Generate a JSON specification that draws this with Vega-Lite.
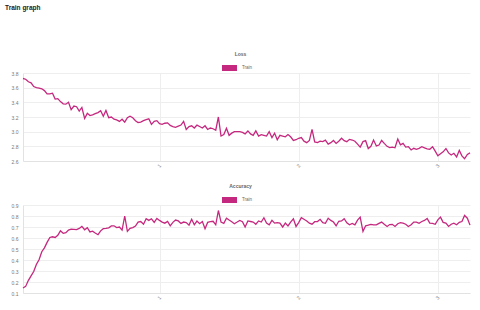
{
  "$schema": "https://vega.github.io/schema/vega-lite/v6.json",
  "padding": {"left": 5, "top": 5, "right": 9, "bottom": 4},
  "background": "white",
  "title": {"text": "Train graph", "anchor": "start", "fontSize": 6.5, "fontWeight": "bold", "color": "#222", "font": "Liberation Sans", "offset": 40, "dx": -6},
  "config": {
    "view": {"stroke": null},
    "font": "Liberation Sans",
    "axis": {"domainColor": "#e2e2e2", "gridColor": "#eeeeee", "ticks": false, "labelFontSize": 5, "labelColor": "#777", "labelFont": "Liberation Sans", "title": null, "labelPadding": 5},
    "title": {"fontSize": 5, "fontWeight": "bold", "color": "#666", "font": "Liberation Sans"}
  },
  "resolve": {"scale": {"color": "independent"}, "legend": {"color": "independent"}},
  "spacing": 14,
  "data": {"values": [
    {"x":0.019,"loss":3.725,"acc":0.146},{"x":0.038,"loss":3.715,"acc":0.16},{"x":0.058,"loss":3.68,"acc":0.215},{"x":0.077,"loss":3.665,"acc":0.255},{"x":0.096,"loss":3.615,"acc":0.295},{"x":0.115,"loss":3.6,"acc":0.36},{"x":0.135,"loss":3.595,"acc":0.405},{"x":0.154,"loss":3.585,"acc":0.475},{"x":0.173,"loss":3.56,"acc":0.51},{"x":0.192,"loss":3.515,"acc":0.56},
    {"x":0.212,"loss":3.515,"acc":0.605},{"x":0.231,"loss":3.525,"acc":0.611},{"x":0.25,"loss":3.445,"acc":0.605},{"x":0.269,"loss":3.45,"acc":0.625},{"x":0.288,"loss":3.41,"acc":0.665},{"x":0.308,"loss":3.38,"acc":0.643},{"x":0.327,"loss":3.375,"acc":0.648},{"x":0.346,"loss":3.4,"acc":0.672},{"x":0.365,"loss":3.3,"acc":0.68},{"x":0.385,"loss":3.35,"acc":0.678},
    {"x":0.404,"loss":3.34,"acc":0.676},{"x":0.423,"loss":3.28,"acc":0.687},{"x":0.442,"loss":3.33,"acc":0.705},{"x":0.462,"loss":3.18,"acc":0.675},{"x":0.481,"loss":3.25,"acc":0.693},{"x":0.5,"loss":3.22,"acc":0.655},{"x":0.519,"loss":3.23,"acc":0.662},{"x":0.538,"loss":3.245,"acc":0.645},{"x":0.558,"loss":3.26,"acc":0.63},{"x":0.577,"loss":3.285,"acc":0.665},
    {"x":0.596,"loss":3.21,"acc":0.685},{"x":0.615,"loss":3.29,"acc":0.688},{"x":0.635,"loss":3.19,"acc":0.693},{"x":0.654,"loss":3.2,"acc":0.71},{"x":0.673,"loss":3.17,"acc":0.711},{"x":0.692,"loss":3.16,"acc":0.695},{"x":0.712,"loss":3.14,"acc":0.7},{"x":0.731,"loss":3.17,"acc":0.672},{"x":0.75,"loss":3.13,"acc":0.8},{"x":0.769,"loss":3.19,"acc":0.66},
    {"x":0.788,"loss":3.21,"acc":0.687},{"x":0.808,"loss":3.19,"acc":0.695},{"x":0.827,"loss":3.15,"acc":0.708},{"x":0.846,"loss":3.125,"acc":0.745},{"x":0.865,"loss":3.13,"acc":0.75},{"x":0.885,"loss":3.15,"acc":0.725},{"x":0.904,"loss":3.165,"acc":0.775},{"x":0.923,"loss":3.175,"acc":0.76},{"x":0.942,"loss":3.1,"acc":0.775},{"x":0.962,"loss":3.14,"acc":0.742},
    {"x":0.981,"loss":3.15,"acc":0.778},{"x":1.0,"loss":3.11,"acc":0.76},{"x":1.019,"loss":3.1,"acc":0.745},{"x":1.038,"loss":3.115,"acc":0.735},{"x":1.058,"loss":3.12,"acc":0.75},{"x":1.077,"loss":3.085,"acc":0.71},{"x":1.096,"loss":3.07,"acc":0.742},{"x":1.115,"loss":3.06,"acc":0.763},{"x":1.135,"loss":3.075,"acc":0.755},{"x":1.154,"loss":3.09,"acc":0.733},
    {"x":1.173,"loss":3.14,"acc":0.745},{"x":1.192,"loss":3.03,"acc":0.74},{"x":1.212,"loss":3.07,"acc":0.717},{"x":1.231,"loss":3.08,"acc":0.77},{"x":1.25,"loss":3.05,"acc":0.72},{"x":1.269,"loss":3.09,"acc":0.754},{"x":1.288,"loss":3.07,"acc":0.73},{"x":1.308,"loss":3.05,"acc":0.75},{"x":1.327,"loss":3.08,"acc":0.685},{"x":1.346,"loss":3.03,"acc":0.742},
    {"x":1.365,"loss":3.05,"acc":0.748},{"x":1.385,"loss":3.04,"acc":0.752},{"x":1.404,"loss":3.02,"acc":0.72},{"x":1.423,"loss":3.2,"acc":0.85},{"x":1.442,"loss":2.94,"acc":0.745},{"x":1.462,"loss":2.96,"acc":0.733},{"x":1.481,"loss":3.045,"acc":0.78},{"x":1.5,"loss":2.95,"acc":0.763},{"x":1.519,"loss":2.98,"acc":0.748},{"x":1.538,"loss":3.0,"acc":0.73},
    {"x":1.558,"loss":3.0,"acc":0.745},{"x":1.577,"loss":3.0,"acc":0.76},{"x":1.596,"loss":2.99,"acc":0.748},{"x":1.615,"loss":2.97,"acc":0.7},{"x":1.635,"loss":3.01,"acc":0.755},{"x":1.654,"loss":2.97,"acc":0.75},{"x":1.673,"loss":2.95,"acc":0.745},{"x":1.692,"loss":3.01,"acc":0.725},{"x":1.712,"loss":2.94,"acc":0.755},{"x":1.731,"loss":2.96,"acc":0.745},
    {"x":1.75,"loss":2.95,"acc":0.784},{"x":1.769,"loss":2.94,"acc":0.735},{"x":1.788,"loss":3.0,"acc":0.72},{"x":1.808,"loss":2.92,"acc":0.76},{"x":1.827,"loss":2.98,"acc":0.735},{"x":1.846,"loss":2.89,"acc":0.74},{"x":1.865,"loss":2.95,"acc":0.735},{"x":1.885,"loss":2.94,"acc":0.7},{"x":1.904,"loss":2.93,"acc":0.735},{"x":1.923,"loss":2.96,"acc":0.71},
    {"x":1.942,"loss":2.93,"acc":0.745},{"x":1.962,"loss":2.88,"acc":0.775},{"x":1.981,"loss":2.89,"acc":0.705},{"x":2.0,"loss":2.91,"acc":0.74},{"x":2.019,"loss":2.92,"acc":0.784},{"x":2.038,"loss":2.87,"acc":0.77},{"x":2.058,"loss":2.85,"acc":0.755},{"x":2.077,"loss":2.88,"acc":0.735},{"x":2.096,"loss":3.03,"acc":0.726},{"x":2.115,"loss":2.86,"acc":0.748},
    {"x":2.135,"loss":2.85,"acc":0.75},{"x":2.154,"loss":2.87,"acc":0.77},{"x":2.173,"loss":2.865,"acc":0.74},{"x":2.192,"loss":2.885,"acc":0.734},{"x":2.212,"loss":2.83,"acc":0.78},{"x":2.231,"loss":2.85,"acc":0.76},{"x":2.25,"loss":2.88,"acc":0.745},{"x":2.269,"loss":2.84,"acc":0.71},{"x":2.288,"loss":2.87,"acc":0.752},{"x":2.308,"loss":2.91,"acc":0.755},
    {"x":2.327,"loss":2.877,"acc":0.776},{"x":2.346,"loss":2.864,"acc":0.738},{"x":2.365,"loss":2.895,"acc":0.72},{"x":2.385,"loss":2.886,"acc":0.733},{"x":2.404,"loss":2.87,"acc":0.72},{"x":2.423,"loss":2.83,"acc":0.762},{"x":2.442,"loss":2.79,"acc":0.79},{"x":2.462,"loss":2.864,"acc":0.66},{"x":2.481,"loss":2.877,"acc":0.711},{"x":2.5,"loss":2.77,"acc":0.716},
    {"x":2.519,"loss":2.8,"acc":0.724},{"x":2.538,"loss":2.886,"acc":0.72},{"x":2.558,"loss":2.805,"acc":0.72},{"x":2.577,"loss":2.818,"acc":0.733},{"x":2.596,"loss":2.88,"acc":0.745},{"x":2.615,"loss":2.84,"acc":0.724},{"x":2.635,"loss":2.8,"acc":0.705},{"x":2.654,"loss":2.782,"acc":0.722},{"x":2.673,"loss":2.79,"acc":0.724},{"x":2.692,"loss":2.78,"acc":0.705},
    {"x":2.712,"loss":2.9,"acc":0.73},{"x":2.731,"loss":2.82,"acc":0.74},{"x":2.75,"loss":2.84,"acc":0.735},{"x":2.769,"loss":2.79,"acc":0.725},{"x":2.788,"loss":2.795,"acc":0.705},{"x":2.808,"loss":2.75,"acc":0.72},{"x":2.827,"loss":2.773,"acc":0.745},{"x":2.846,"loss":2.76,"acc":0.745},{"x":2.865,"loss":2.773,"acc":0.733},{"x":2.885,"loss":2.795,"acc":0.75},
    {"x":2.904,"loss":2.78,"acc":0.76},{"x":2.923,"loss":2.765,"acc":0.778},{"x":2.942,"loss":2.76,"acc":0.735},{"x":2.962,"loss":2.795,"acc":0.733},{"x":2.981,"loss":2.735,"acc":0.725},{"x":3.0,"loss":2.67,"acc":0.765},{"x":3.019,"loss":2.7,"acc":0.79},{"x":3.038,"loss":2.725,"acc":0.742},{"x":3.058,"loss":2.77,"acc":0.735},{"x":3.077,"loss":2.71,"acc":0.705},
    {"x":3.096,"loss":2.682,"acc":0.725},{"x":3.115,"loss":2.705,"acc":0.735},{"x":3.135,"loss":2.655,"acc":0.72},{"x":3.154,"loss":2.745,"acc":0.742},{"x":3.173,"loss":2.67,"acc":0.75},{"x":3.192,"loss":2.63,"acc":0.805},{"x":3.212,"loss":2.69,"acc":0.78},{"x":3.231,"loss":2.71,"acc":0.717}
  ]},
  "vconcat": [
    {
      "width": 447, "height": 88,
      "title": {"text": "Loss", "dx": -6, "offset": 4},
      "mark": {"type": "line", "strokeWidth": 1.3, "interpolate": "linear"},
      "encoding": {
        "x": {"field": "x", "type": "quantitative", "scale": {"domain": [0.019, 3.231], "nice": false, "zero": false}, "axis": {"values": [1, 2, 3], "labelAngle": -50, "labelAlign": "right", "labelBaseline": "middle", "labelPadding": 3}},
        "y": {"field": "loss", "type": "quantitative", "scale": {"domain": [2.6, 3.8], "nice": false, "zero": false}, "axis": {"values": [2.6, 2.8, 3.0, 3.2, 3.4, 3.6, 3.8], "format": ".1f"}},
        "color": {"datum": "Train", "scale": {"range": ["#c5287f"]}, "legend": {"orient": "none", "legendX": 199, "legendY": -12.5, "title": null, "symbolType": "M-1,-0.4H1V0.4H-1Z", "symbolSize": 225, "symbolStrokeWidth": 0, "labelFontSize": 4.5, "labelColor": "#666", "padding": 0, "labelOffset": 5, "encode": {"symbols": {"update": {"fill": {"value": "#c5287f"}, "strokeWidth": {"value": 0}}}}}}
      }
    },
    {
      "width": 447, "height": 88,
      "title": {"text": "Accuracy", "dx": -6, "offset": 4},
      "mark": {"type": "line", "strokeWidth": 1.3, "interpolate": "linear"},
      "encoding": {
        "x": {"field": "x", "type": "quantitative", "scale": {"domain": [0.019, 3.231], "nice": false, "zero": false}, "axis": {"values": [1, 2, 3], "labelAngle": -50, "labelAlign": "right", "labelBaseline": "middle", "labelPadding": 3}},
        "y": {"field": "acc", "type": "quantitative", "scale": {"domain": [0.1, 0.9], "nice": false, "zero": false}, "axis": {"values": [0.1, 0.2, 0.3, 0.4, 0.5, 0.6, 0.7, 0.8, 0.9], "format": ".1f"}},
        "color": {"datum": "Train", "scale": {"range": ["#c5287f"]}, "legend": {"orient": "none", "legendX": 199, "legendY": -12.5, "title": null, "symbolType": "M-1,-0.4H1V0.4H-1Z", "symbolSize": 225, "symbolStrokeWidth": 0, "labelFontSize": 4.5, "labelColor": "#666", "padding": 0, "labelOffset": 5, "encode": {"symbols": {"update": {"fill": {"value": "#c5287f"}, "strokeWidth": {"value": 0}}}}}}
      }
    }
  ]
}
